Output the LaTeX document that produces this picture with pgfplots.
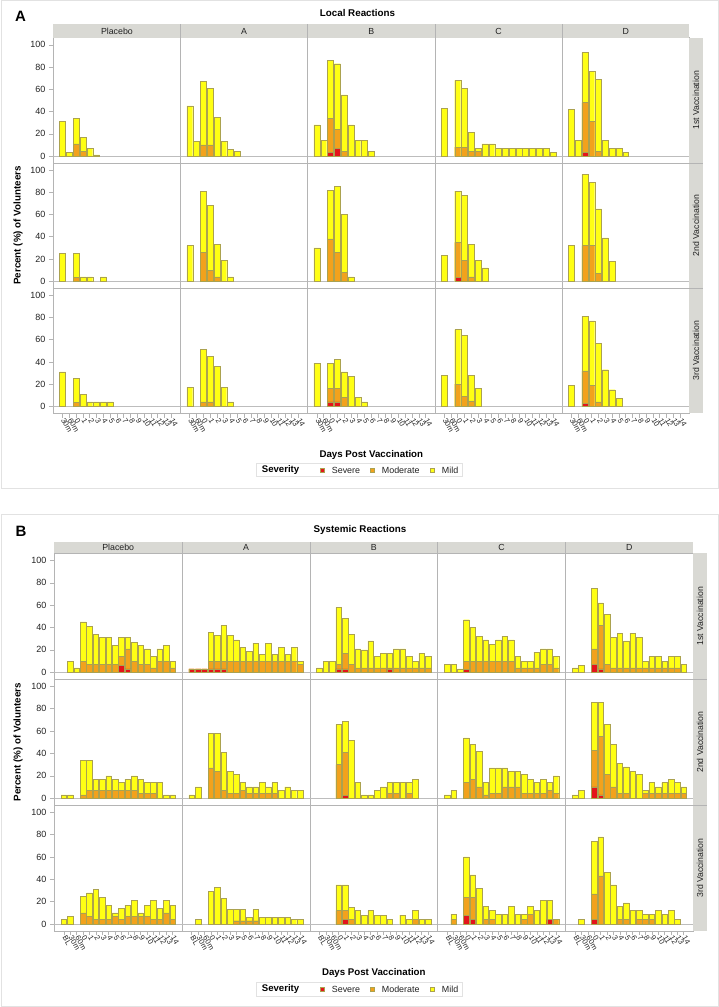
\documentclass[border=0pt]{standalone}
\usepackage{fontspec}
\setmainfont{Liberation Sans}
\usepackage{pgfplots}
\usepackage{pgfplotstable}
\pgfplotsset{compat=1.18}
\definecolor{yel}{HTML}{FFFF14}
\definecolor{org}{HTML}{F2A21C}
\definecolor{redc}{HTML}{E4141B}
\definecolor{edgec}{HTML}{ABA24F}
\definecolor{gridc}{HTML}{B4B4B4}
\definecolor{basec}{HTML}{BDBDBD}
\definecolor{stripc}{HTML}{D9D9D4}
\definecolor{framec}{HTML}{E2E2E2}
\definecolor{txtc}{HTML}{222222}

% ---------------- Panel A data (x: 1=30m, 2=60m, 3=day 0, ... 17=day 14) ----------
\pgfplotstableread{
x t m s
1 31 0 0
2 3 0 0
3 34 11 0
4 17 4 0
5 7 0 0
6 1 0 0
}\tAaP
\pgfplotstableread{
x t m s
1 45 0 0
2 13 0 0
3 67 10 0
4 61 10 0
5 35 0 0
6 13 0 0
7 6 0 0
8 4 0 0
}\tAaA
\pgfplotstableread{
x t m s
1 28 0 0
2 14 0 0
3 86 34 3
4 83 24 7
5 55 4 0
6 28 0 0
7 14 0 0
8 14 0 0
9 4 0 0
}\tAaB
\pgfplotstableread{
x t m s
1 43 0 0
3 68 8 0
4 61 8 0
5 21 4 0
6 7 4 0
7 11 0 0
8 11 0 0
9 7 0 0
10 7 0 0
11 7 0 0
12 7 0 0
13 7 0 0
14 7 0 0
15 7 0 0
16 7 0 0
17 3 0 0
}\tAaC
\pgfplotstableread{
x t m s
1 42 0 0
2 14 0 0
3 93 48 3
4 76 31 0
5 69 4 0
6 14 0 0
7 7 0 0
8 7 0 0
9 3 0 0
}\tAaD
\pgfplotstableread{
x t m s
1 25 0 0
3 25 4 0
4 4 0 0
5 4 0 0
7 4 0 0
}\tAbP
\pgfplotstableread{
x t m s
1 32 0 0
3 81 26 0
4 68 10 0
5 33 4 0
6 19 0 0
7 4 0 0
}\tAbA
\pgfplotstableread{
x t m s
1 30 0 0
3 82 38 0
4 85 26 0
5 60 8 0
6 4 0 0
}\tAbB
\pgfplotstableread{
x t m s
1 23 0 0
3 81 35 4
4 77 19 0
5 33 4 0
6 19 0 0
7 12 0 0
}\tAbC
\pgfplotstableread{
x t m s
1 32 0 0
3 96 32 0
4 89 32 0
5 65 7 0
6 39 0 0
7 18 0 0
}\tAbD
\pgfplotstableread{
x t m s
1 31 0 0
3 25 4 0
4 11 0 0
5 4 0 0
6 4 0 0
7 4 0 0
8 4 0 0
}\tAcP
\pgfplotstableread{
x t m s
1 17 0 0
3 51 4 0
4 45 4 0
5 36 0 0
6 17 0 0
7 4 0 0
}\tAcA
\pgfplotstableread{
x t m s
1 39 0 0
3 39 16 4
4 42 16 4
5 31 8 0
6 27 0 0
7 8 0 0
8 4 0 0
}\tAcB
\pgfplotstableread{
x t m s
1 28 0 0
3 69 20 0
4 64 9 0
5 28 5 0
6 16 0 0
}\tAcC
\pgfplotstableread{
x t m s
1 19 0 0
3 81 32 3
4 77 19 0
5 57 4 0
6 33 0 0
7 15 0 0
8 7 0 0
}\tAcD

% ---------------- Panel B data (x: 1=BL, 2=30m, 3=60m, 4=day 0, ... 18=day 14) ----------
\pgfplotstableread{
x t m s
2 10 0 0
3 4 0 0
4 45 10 0
5 41 7 0
6 34 7 0
7 31 7 0
8 31 7 0
9 24 7 0
10 31 14 6
11 31 21 3
12 27 10 0
13 24 7 0
14 21 7 0
15 14 4 0
16 21 10 0
17 24 10 0
18 10 4 0
}\tBaP
\pgfplotstableread{
x t m s
1 3 3 3
2 3 3 3
3 3 3 3
4 36 10 3
5 33 10 3
6 42 10 3
7 33 10 0
8 29 10 0
9 22 10 0
10 19 10 0
11 26 10 0
12 16 10 0
13 26 10 0
14 16 10 0
15 22 10 0
16 16 10 0
17 22 10 0
18 10 7 0
}\tBaA
\pgfplotstableread{
x t m s
1 4 0 0
2 10 0 0
3 10 0 0
4 58 7 3
5 48 17 3
6 34 7 0
7 21 4 0
8 20 4 0
9 28 4 0
10 14 4 0
11 17 4 0
12 17 4 3
13 21 4 0
14 21 4 0
15 14 4 0
16 10 4 0
17 17 4 0
18 14 4 0
}\tBaB
\pgfplotstableread{
x t m s
1 7 0 0
2 7 0 0
3 3 0 0
4 47 10 3
5 40 10 0
6 32 10 0
7 29 10 0
8 25 10 0
9 29 10 0
10 32 10 0
11 29 10 0
12 14 4 0
13 10 4 0
14 10 4 0
15 18 4 0
16 21 7 0
17 21 7 0
18 14 4 0
}\tBaC
\pgfplotstableread{
x t m s
1 4 0 0
2 6 0 0
4 75 21 7
5 62 42 3
6 52 7 0
7 31 4 0
8 35 4 0
9 28 4 0
10 35 4 0
11 31 4 0
12 10 4 0
13 14 4 0
14 14 4 0
15 10 4 0
16 14 4 0
17 14 4 0
18 7 0 0
}\tBaD
\pgfplotstableread{
x t m s
1 3 0 0
2 3 0 0
4 34 3 0
5 34 7 0
6 17 7 0
7 17 7 0
8 20 7 0
9 17 7 0
10 14 7 0
11 17 7 0
12 20 7 0
13 17 4 0
14 14 4 0
15 14 4 0
16 14 0 0
17 3 0 0
18 3 0 0
}\tBbP
\pgfplotstableread{
x t m s
1 3 0 0
2 10 0 0
4 58 27 0
5 58 24 0
6 41 7 0
7 24 4 0
8 21 4 0
9 14 7 0
10 10 4 0
11 10 4 0
12 14 4 0
13 10 4 0
14 14 4 0
15 7 0 0
16 10 0 0
17 7 0 0
18 7 0 0
}\tBbA
\pgfplotstableread{
x t m s
4 66 30 0
5 69 41 3
6 52 0 0
7 14 0 0
8 3 0 0
9 3 0 0
10 7 0 0
11 10 0 0
12 14 4 0
13 14 4 0
14 14 0 0
15 14 4 0
16 17 0 0
}\tBbB
\pgfplotstableread{
x t m s
1 3 0 0
2 7 0 0
4 54 14 0
5 48 17 0
6 42 10 0
7 14 3 0
8 27 4 0
9 27 4 0
10 27 10 0
11 24 10 0
12 24 10 0
13 21 4 0
14 17 4 0
15 14 4 0
16 17 4 0
17 14 7 0
18 20 4 0
}\tBbC
\pgfplotstableread{
x t m s
1 3 0 0
2 7 0 0
4 86 43 10
5 86 55 3
6 66 21 0
7 48 10 0
8 31 4 0
9 28 4 0
10 24 0 0
11 21 0 0
12 7 4 0
13 14 4 0
14 10 4 0
15 14 4 0
16 17 4 0
17 14 4 0
18 10 4 0
}\tBbD
\pgfplotstableread{
x t m s
1 4 0 0
2 7 0 0
4 25 10 0
5 28 7 0
6 31 4 0
7 24 4 0
8 17 4 0
9 10 7 0
10 14 4 0
11 17 7 0
12 21 7 0
13 10 7 0
14 17 7 0
15 21 4 0
16 14 4 0
17 21 10 0
18 17 4 0
}\tBcP
\pgfplotstableread{
x t m s
2 4 0 0
4 29 0 0
5 33 0 0
6 23 0 0
7 13 0 0
8 13 3 0
9 13 3 0
10 6 3 0
11 13 3 0
12 6 0 0
13 6 0 0
14 6 0 0
15 6 0 0
16 6 0 0
17 4 0 0
18 4 0 0
}\tBcA
\pgfplotstableread{
x t m s
4 35 12 0
5 35 12 4
6 15 4 0
7 12 0 0
8 8 0 0
9 12 0 0
10 8 0 0
11 8 0 0
12 4 0 0
14 8 0 0
15 4 0 0
16 12 4 0
17 4 0 0
18 4 0 0
}\tBcB
\pgfplotstableread{
x t m s
2 9 4 0
4 60 24 8
5 44 24 4
6 32 0 0
7 16 4 0
8 12 4 0
9 9 0 0
10 9 0 0
11 16 0 0
12 9 0 0
13 9 4 0
14 16 9 0
15 12 0 0
16 21 0 0
17 21 4 4
18 4 4 0
}\tBcC
\pgfplotstableread{
x t m s
2 4 0 0
4 74 27 4
5 78 43 0
6 46 0 0
7 35 0 0
8 16 4 0
9 19 4 0
10 12 0 0
11 12 4 0
12 9 4 0
13 9 4 0
14 12 0 0
15 9 0 0
16 12 0 0
17 4 0 0
}\tBcD

\pgfplotsset{
  cellbase/.style={scale only axis, anchor=south west, ybar, bar shift=0pt, bar width=0.88,
    ymin=-6.2, ymax=106.4, axis line style={draw=gridc, line width=0.7pt},
    xtick=\empty, ytick=\empty, tick style={draw=gridc, line width=0.5pt},
    major tick length=4.5pt, tick align=outside,
    restrict y to domain=0.5:200,
    /pgf/number format/assume math mode=true},
  cellA/.style={cellbase, width=127.2pt, height=125.2pt, xmin=-0.36, xmax=18.36},
  cellB/.style={cellbase, width=127.8pt, height=125.9pt, xmin=-0.5, xmax=19.5},
  ylab/.style={ytick={0,20,40,60,80,100}, ytick pos=left,
    yticklabel style={font=\fontsize{9}{10}\selectfont, text=txtc}},
  xlabA/.style={xtick={1,...,17}, xtick pos=bottom,
    xticklabels={30m,60m,0,1,2,3,4,5,6,7,8,9,10,11,12,13,14},
    xticklabel style={rotate=-60, anchor=west, font=\fontsize{7.5}{8}\selectfont, text=txtc, inner sep=1pt}},
  xlabB/.style={xtick={1,...,18}, xtick pos=bottom,
    xticklabels={BL,30m,60m,0,1,2,3,4,5,6,7,8,9,10,11,12,13,14},
    xticklabel style={rotate=-60, anchor=west, font=\fontsize{7.5}{8}\selectfont, text=txtc, inner sep=1pt}},
}

\newcommand{\cell}[4]{%
\begin{axis}[#1, at={(#2pt,#3pt)}]
\draw[basec, line width=0.6pt] ({rel axis cs:0,0}|-{axis cs:1,0}) -- ({rel axis cs:1,0}|-{axis cs:1,0});
\addplot[fill=yel, draw=edgec, line width=0.4pt] table[x=x,y=t] {#4};
\addplot[fill=org, draw=edgec, line width=0.4pt] table[x=x,y=m] {#4};
\addplot[fill=redc, draw=edgec, line width=0.4pt] table[x=x,y=s] {#4};
\end{axis}}

\newcommand{\legendbox}[1]{%
\draw[framec, line width=0.6pt] (256.7,#1-6.7) rectangle (462.7,#1+6.7);
\node[anchor=west, inner sep=0, font=\bfseries\fontsize{9.6}{10}\selectfont] at (261.7,#1) {Severity};
\draw[edgec, fill=redc, line width=0.3pt] (320,#1-2.3) rectangle (324.6,#1+2.3);
\node[anchor=west, inner sep=0, font=\fontsize{8.9}{10}\selectfont, text=txtc] at (331.7,#1) {Severe};
\draw[edgec, fill=org, line width=0.3pt] (370,#1-2.3) rectangle (374.6,#1+2.3);
\node[anchor=west, inner sep=0, font=\fontsize{8.9}{10}\selectfont, text=txtc] at (381.7,#1) {Moderate};
\draw[edgec, fill=yel, line width=0.3pt] (430,#1-2.3) rectangle (434.6,#1+2.3);
\node[anchor=west, inner sep=0, font=\fontsize{8.9}{10}\selectfont, text=txtc] at (441.7,#1) {Mild};
}

\begin{document}
\begin{tikzpicture}[x=1pt,y=1pt]
% frames
\draw[framec, line width=0.8pt] (1.7,1006.3) rectangle (718,519);
\draw[framec, line width=0.8pt] (1.7,493) rectangle (718,1);

% ================= Panel A =================
\cell{cellA,ylab}{53.3}{844.1}{\tAaP}
\cell{cellA}{180.5}{844.1}{\tAaA}
\cell{cellA}{307.7}{844.1}{\tAaB}
\cell{cellA}{434.9}{844.1}{\tAaC}
\cell{cellA}{562.1}{844.1}{\tAaD}
\cell{cellA,ylab}{53.3}{718.9}{\tAbP}
\cell{cellA}{180.5}{718.9}{\tAbA}
\cell{cellA}{307.7}{718.9}{\tAbB}
\cell{cellA}{434.9}{718.9}{\tAbC}
\cell{cellA}{562.1}{718.9}{\tAbD}
\cell{cellA,ylab,xlabA}{53.3}{593.7}{\tAcP}
\cell{cellA,xlabA}{180.5}{593.7}{\tAcA}
\cell{cellA,xlabA}{307.7}{593.7}{\tAcB}
\cell{cellA,xlabA}{434.9}{593.7}{\tAcC}
\cell{cellA,xlabA}{562.1}{593.7}{\tAcD}

% strips A
\fill[stripc] (53.3,969.3) rectangle (689.3,982.5);
\foreach \xx in {180.5,307.7,434.9,562.1} \draw[gridc, line width=0.6pt] (\xx,969.3) -- (\xx,982.5);
\foreach \xx/\lab in {116.9/Placebo,244.1/A,371.3/B,498.5/C,625.7/D}
  \node[font=\fontsize{8.8}{10}\selectfont, text=txtc] at (\xx,975.9) {\lab};
\fill[stripc] (689.3,593.7) rectangle (702.7,969.3);
\foreach \yy in {718.9,844.1} \draw[gridc, line width=0.6pt] (689.3,\yy) -- (702.7,\yy);
\foreach \yy/\lab in {906.7/1st Vaccination,781.5/2nd Vaccination,656.3/3rd Vaccination}
  \node[rotate=90, font=\fontsize{8.7}{10}\selectfont, text=txtc] at (696,\yy) {\lab};

\node[font=\bfseries\fontsize{15}{16}\selectfont] at (20.5,991) {A};
\node[font=\bfseries\fontsize{9.8}{11}\selectfont] at (357.5,993.5) {Local Reactions};
\node[rotate=90, font=\bfseries\fontsize{9.8}{11}\selectfont] at (18,781.5) {Percent (\%) of Volunteers};
\node[font=\bfseries\fontsize{9.7}{11}\selectfont] at (371.3,552) {Days Post Vaccination};
\legendbox{537}

% ================= Panel B =================
\cell{cellB,ylab}{54.3}{327.8}{\tBaP}
\cell{cellB}{182.1}{327.8}{\tBaA}
\cell{cellB}{309.9}{327.8}{\tBaB}
\cell{cellB}{437.7}{327.8}{\tBaC}
\cell{cellB}{565.5}{327.8}{\tBaD}
\cell{cellB,ylab}{54.3}{201.9}{\tBbP}
\cell{cellB}{182.1}{201.9}{\tBbA}
\cell{cellB}{309.9}{201.9}{\tBbB}
\cell{cellB}{437.7}{201.9}{\tBbC}
\cell{cellB}{565.5}{201.9}{\tBbD}
\cell{cellB,ylab,xlabB}{54.3}{76.0}{\tBcP}
\cell{cellB,xlabB}{182.1}{76.0}{\tBcA}
\cell{cellB,xlabB}{309.9}{76.0}{\tBcB}
\cell{cellB,xlabB}{437.7}{76.0}{\tBcC}
\cell{cellB,xlabB}{565.5}{76.0}{\tBcD}

\fill[stripc] (54.3,453.7) rectangle (693.3,465.3);
\foreach \xx in {182.1,309.9,437.7,565.5} \draw[gridc, line width=0.6pt] (\xx,453.7) -- (\xx,465.3);
\foreach \xx/\lab in {118.2/Placebo,246/A,373.8/B,501.6/C,629.4/D}
  \node[font=\fontsize{8.8}{10}\selectfont, text=txtc] at (\xx,459.5) {\lab};
\fill[stripc] (693.3,76) rectangle (706.7,453.7);
\foreach \yy in {201.9,327.8} \draw[gridc, line width=0.6pt] (693.3,\yy) -- (706.7,\yy);
\foreach \yy/\lab in {390.75/1st Vaccination,264.85/2nd Vaccination,138.95/3rd Vaccination}
  \node[rotate=90, font=\fontsize{8.7}{10}\selectfont, text=txtc] at (700,\yy) {\lab};

\node[font=\bfseries\fontsize{15}{16}\selectfont] at (21,475.3) {B};
\node[font=\bfseries\fontsize{9.8}{11}\selectfont] at (360,477) {Systemic Reactions};
\node[rotate=90, font=\bfseries\fontsize{9.8}{11}\selectfont] at (18,264.85) {Percent (\%) of Volunteers};
\node[font=\bfseries\fontsize{9.7}{11}\selectfont] at (373.8,33.7) {Days Post Vaccination};
\legendbox{17.7}

\pgfresetboundingbox
\useasboundingbox (0,0) rectangle (719,1007);
\end{tikzpicture}
\end{document}
